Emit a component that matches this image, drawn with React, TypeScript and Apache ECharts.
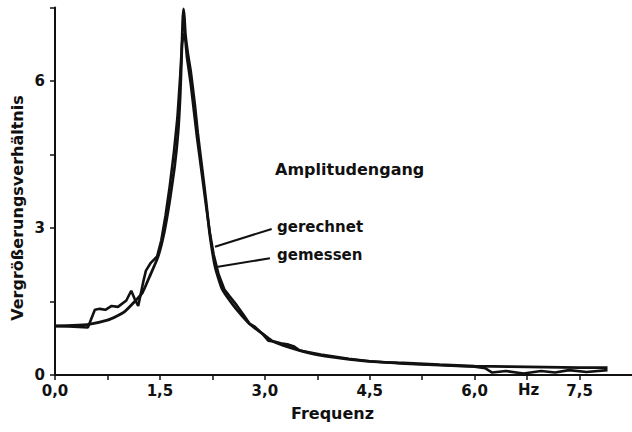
import React, { useEffect, useRef } from "react";
import * as echarts from "echarts";

// Frequency (Hz) / magnification ratio pairs
const calcFreq = [0, 0.25, 0.5, 0.75, 0.88, 1.0, 1.14, 1.25, 1.35, 1.47, 1.56, 1.64, 1.71, 1.76, 1.79, 1.81, 1.825, 1.837, 1.85, 1.865, 1.9, 1.94, 2.0, 2.04, 2.1, 2.16, 2.21, 2.29, 2.39, 2.55, 2.68, 2.8, 2.96, 3.1, 3.34, 3.72, 4.1, 4.5, 4.9, 5.5, 6.0, 6.5, 7.0, 7.5, 7.9];
const calcValue = [1.0, 1.01, 1.04, 1.12, 1.2, 1.3, 1.5, 1.68, 2.0, 2.4, 2.9, 3.55, 4.25, 4.95, 5.7, 6.5, 7.2, 7.47, 7.3, 6.95, 6.55, 6.2, 5.5, 4.95, 4.25, 3.55, 2.9, 2.2, 1.75, 1.42, 1.2, 1.02, 0.85, 0.7, 0.57, 0.42, 0.34, 0.28, 0.25, 0.21, 0.18, 0.17, 0.16, 0.15, 0.15];

const measFreq = [0, 0.2, 0.47, 0.57, 0.64, 0.72, 0.81, 0.9, 1.02, 1.09, 1.14, 1.19, 1.26, 1.3, 1.37, 1.46, 1.52, 1.58, 1.64, 1.7, 1.75, 1.79, 1.815, 1.84, 1.86, 1.885, 1.94, 2.03, 2.1, 2.16, 2.22, 2.27, 2.34, 2.42, 2.5, 2.6, 2.7, 2.78, 2.86, 2.96, 3.05, 3.15, 3.25, 3.34, 3.42, 3.5, 3.8, 4.2, 4.5, 5.0, 5.5, 6.0, 6.15, 6.25, 6.45, 6.7, 6.95, 7.15, 7.35, 7.6, 7.9];
const measValue = [1.0, 0.99, 0.97, 1.33, 1.35, 1.33, 1.41, 1.39, 1.52, 1.72, 1.55, 1.41, 1.89, 2.13, 2.29, 2.42, 2.75, 3.25, 3.85, 4.55, 5.25, 6.1, 6.75, 6.97, 6.9, 6.5, 5.95, 4.85, 4.1, 3.45, 2.85, 2.45, 2.05, 1.75, 1.6, 1.42, 1.22, 1.05, 0.98, 0.85, 0.7, 0.68, 0.64, 0.62, 0.58, 0.5, 0.42, 0.33, 0.28, 0.23, 0.2, 0.17, 0.14, 0.05, 0.08, 0.03, 0.08, 0.05, 0.1, 0.06, 0.1];

const xTickLabels = ["0,0", "1,5", "3,0", "4,5", "6,0", "7,5"];
const yTickLabels = ["0", "3", "6"];

const FONT = "DejaVu Sans";
const INK = "#111";

export default function App() {
  const ref = useRef<HTMLDivElement>(null);
  useEffect(() => {
    if (!ref.current) return;
    const chart = echarts.init(ref.current, null, { renderer: "svg" });
    const calc = calcFreq.map((f, i) => [f, calcValue[i]]);
    const meas = measFreq.map((f, i) => [f, measValue[i]]);
    const labelStyle = { fontFamily: FONT, fontWeight: "bold" as const, fontSize: 15, color: INK };
    chart.setOption({
      animation: false,
      backgroundColor: "#fff",
      grid: { left: 55, right: -3, top: 7.5, bottom: 57 },
      xAxis: {
        type: "value",
        min: 0,
        max: 8.25,
        interval: 0.75,
        axisLine: { lineStyle: { color: INK, width: 2 } },
        axisTick: { length: 5, lineStyle: { color: INK, width: 1.5 } },
        splitLine: { show: false },
        axisLabel: {
          ...labelStyle,
          margin: 8,
          showMaxLabel: false,
          formatter: (v: number) => {
            const k = v / 1.5;
            const r = Math.round(k);
            return Math.abs(k - r) < 1e-6 && xTickLabels[r] ? xTickLabels[r] : "";
          },
        },
      },
      yAxis: {
        type: "value",
        min: 0,
        max: 7.5,
        interval: 1.5,
        axisLine: { show: true, lineStyle: { color: INK, width: 2 } },
        axisTick: { show: true, length: 5, lineStyle: { color: INK, width: 1.5 } },
        splitLine: { show: false },
        axisLabel: {
          ...labelStyle,
          margin: 10,
          formatter: (v: number) => {
            const k = v / 3;
            const r = Math.round(k);
            return Math.abs(k - r) < 1e-6 && yTickLabels[r] ? yTickLabels[r] : "";
          },
        },
      },
      series: [
        {
          name: "gerechnet",
          type: "line",
          data: calc,
          symbol: "none",
          smooth: 0.15,
          lineStyle: { color: INK, width: 2.8 },
        },
        {
          name: "gemessen",
          type: "line",
          data: meas,
          symbol: "none",
          lineStyle: { color: INK, width: 2.6 },
        },
      ],
      graphic: [
        { type: "text", left: 275, top: 161, style: { text: "Amplitudengang", font: `bold 16px "${FONT}"`, fill: INK } },
        { type: "text", left: 277, top: 219, style: { text: "gerechnet", font: `bold 15px "${FONT}"`, fill: INK } },
        { type: "text", left: 277, top: 247, style: { text: "gemessen", font: `bold 15px "${FONT}"`, fill: INK } },
        { type: "line", shape: { x1: 271.7, y1: 229, x2: 215, y2: 246.7 }, style: { stroke: INK, lineWidth: 2 } },
        { type: "line", shape: { x1: 270, y1: 258.3, x2: 218, y2: 266.7 }, style: { stroke: INK, lineWidth: 2 } },
        { type: "text", left: 518, top: 382, style: { text: "Hz", font: `bold 15px "${FONT}"`, fill: INK } },
        { type: "text", left: 291, top: 405, style: { text: "Frequenz", font: `bold 16px "${FONT}"`, fill: INK } },
        {
          type: "text",
          x: 17,
          y: 208,
          rotation: Math.PI / 2,
          style: {
            text: "Vergrößerungsverhältnis",
            font: `bold 16px "${FONT}"`,
            fill: INK,
            align: "center",
            verticalAlign: "middle",
          },
        },
      ],
    });
    return () => chart.dispose();
  }, []);
  return (
    <div
      ref={ref}
      style={{ position: "absolute", left: 0, top: 0, width: 632, height: 432, background: "#fff" }}
    />
  );
}
